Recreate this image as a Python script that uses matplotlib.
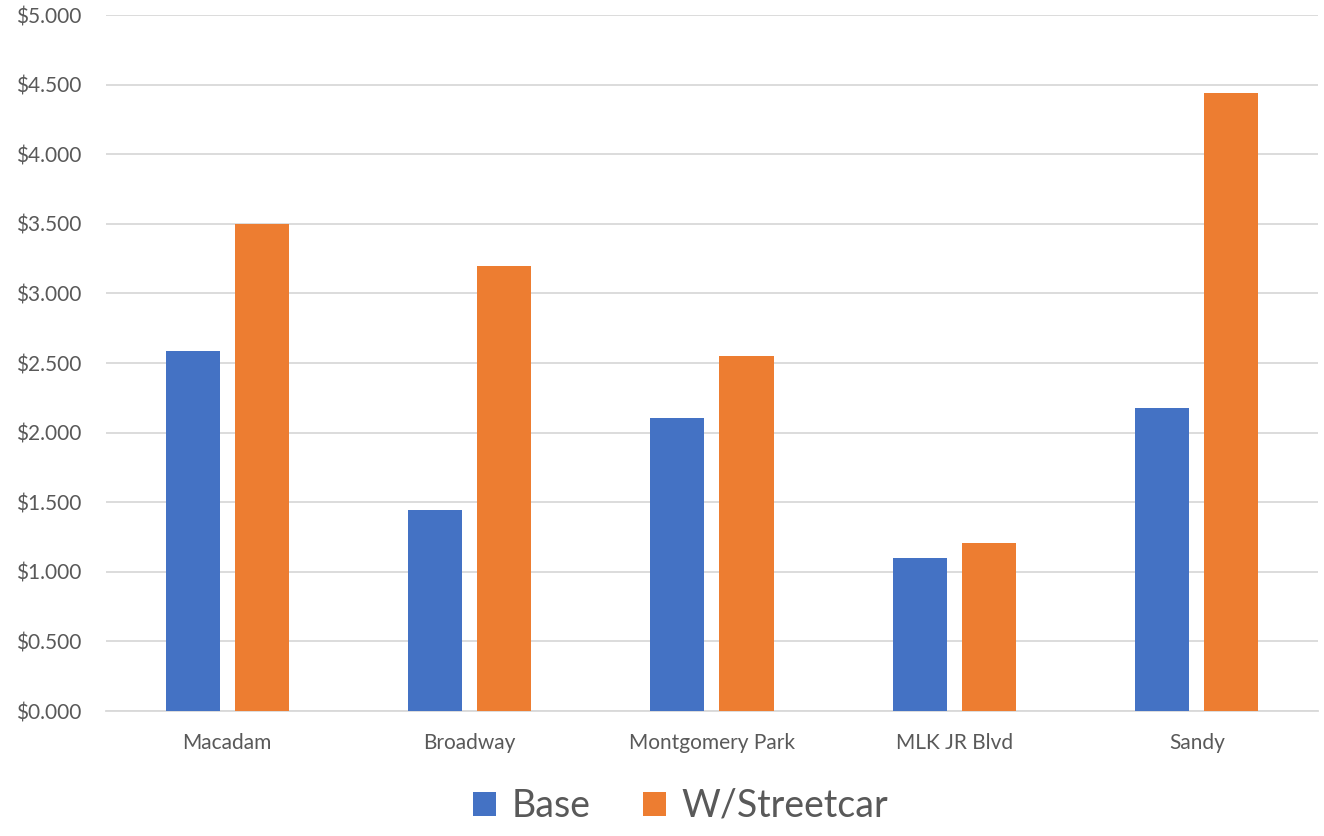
import numpy as np
import matplotlib.pyplot as plt
from matplotlib.ticker import FuncFormatter

categories = ['Macadam', 'Broadway', 'Montgomery Park', 'MLK JR Blvd', 'Sandy']
base = [2.586, 1.444, 2.107, 1.097, 2.175]
streetcar = [3.500, 3.197, 2.550, 1.207, 4.442]

plt.rcParams['font.family'] = ['Lato', 'DejaVu Sans']

fig = plt.figure(figsize=(13.24, 8.36), dpi=100)
ax = fig.add_axes([0.080, 0.1495, 0.9155, 0.8325])

x = np.arange(len(categories))
w = 0.223
off = (w + 0.062) / 2
ax.bar(x - off, base, w, color='#4472C4', label='Base', zorder=3)
ax.bar(x + off, streetcar, w, color='#ED7D31', label='W/Streetcar', zorder=3)

ax.set_xlim(-0.5, len(categories) - 0.5)
ax.set_ylim(0, 5)
ax.set_yticks(np.arange(0, 5.01, 0.5))
ax.yaxis.set_major_formatter(FuncFormatter(lambda v, p: '${:.3f}'.format(v)))
ax.set_xticks(x)
ax.set_xticklabels(categories)

ax.grid(axis='y', color='#d9d9d9', linewidth=1.3, zorder=0)
for s in ['top', 'right', 'left']:
    ax.spines[s].set_visible(False)
ax.spines['bottom'].set_color('#d9d9d9')
ax.spines['bottom'].set_linewidth(1.3)
ax.tick_params(axis='both', length=0, colors='#595959', labelsize=15)
ax.tick_params(axis='y', pad=18)
ax.tick_params(axis='x', pad=16)

fig.legend(loc='center', bbox_to_anchor=(0.514, 0.036), ncol=2, frameon=False,
           fontsize=27, labelcolor='#595959', handlelength=0.62, handleheight=0.62,
           handletextpad=0.4, columnspacing=1.4)

fig.savefig('out.png', dpi=100)
